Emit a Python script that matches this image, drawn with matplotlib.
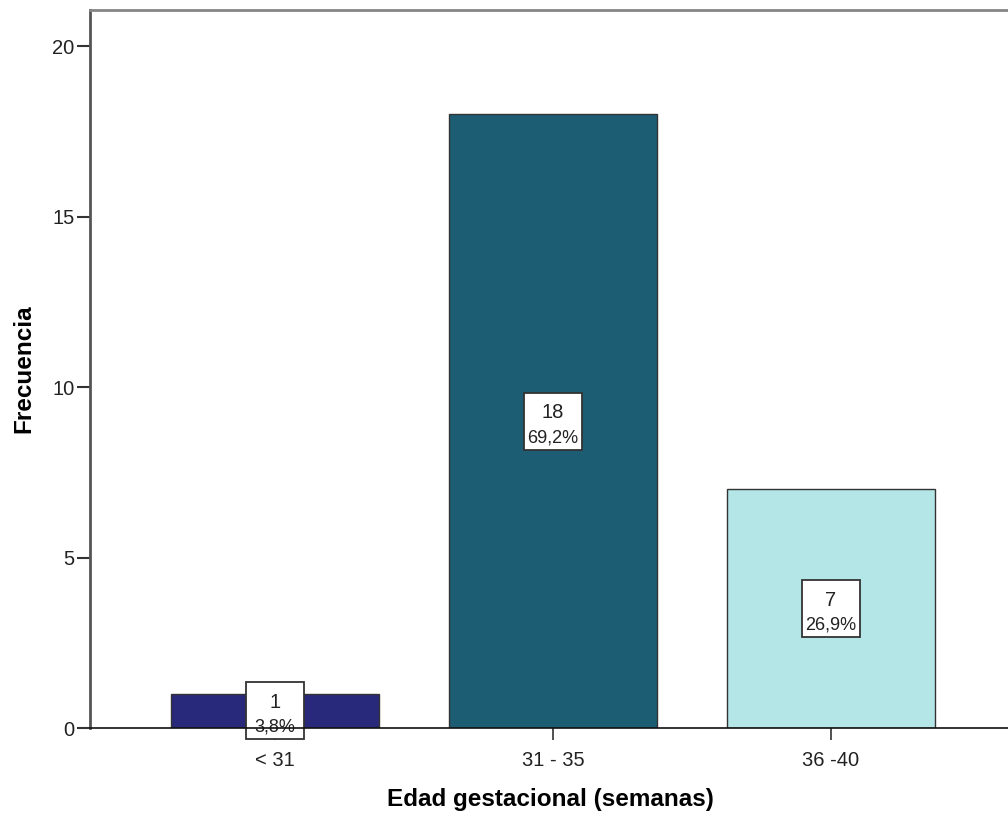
import matplotlib
matplotlib.use("Agg")
import matplotlib.pyplot as plt
import matplotlib.transforms as mtransforms
from matplotlib.patches import Rectangle

# Datos
categorias = ["< 31", "31 - 35", "36 -40"]
frecuencias = [1, 18, 7]
porcentajes = ["3,8%", "69,2%", "26,9%"]
colores = ["#28297a", "#1d5d73", "#b4e5e7"]

plt.rcParams['font.family'] = ['Liberation Sans', 'DejaVu Sans']

fig = plt.figure(figsize=(10.08, 8.17), dpi=100)
ax = fig.add_axes([90 / 1008, 89 / 817, (1010 - 90) / 1008, (728 - 10) / 817])

x = list(range(len(categorias)))
ax.bar(x, frecuencias, width=0.748, color=colores, edgecolor="#333333", linewidth=1.0, zorder=2)

# Cajas de etiquetas (conteo y porcentaje) centradas en cada barra
for i, (v, p) in enumerate(zip(frecuencias, porcentajes)):
    trans = fig.dpi_scale_trans + mtransforms.ScaledTranslation(i, v / 2, ax.transData)
    ax.add_patch(Rectangle((-0.29, -0.285), 0.58, 0.57, transform=trans,
                           facecolor="white", edgecolor="#333333", linewidth=1.3,
                           zorder=4, clip_on=False))
    ax.text(0, 0.085, str(v), transform=trans, ha="center", va="center",
            fontsize=14.5, color="#222222", zorder=5)
    ax.text(0, -0.165, p, transform=trans, ha="center", va="center",
            fontsize=13, color="#222222", zorder=5)

ax.set_xlim(-0.665, 2.644)
ax.set_ylim(0, 21.06)
ax.set_yticks([0, 5, 10, 15, 20])
ax.set_xticks(x)
ax.set_xticklabels(categorias)

ax.spines["right"].set_visible(False)
ax.spines["top"].set_color("#858585")
ax.spines["top"].set_linewidth(2.0)
ax.spines["left"].set_color("#555555")
ax.spines["left"].set_linewidth(2.0)
ax.spines["bottom"].set_color("#111111")
ax.spines["bottom"].set_linewidth(1.2)
# la linea del eje pasa por encima de la caja de la primera barra
ax.spines["bottom"].set_zorder(6)

ax.tick_params(axis="y", length=9.5, width=1.5, color="#333333", pad=1.5,
               labelsize=14.5, labelcolor="#222222")
ax.tick_params(axis="x", length=8.5, width=1.2, color="#333333", pad=8,
               labelsize=14.5, labelcolor="#222222")

ax.set_xlabel("Edad gestacional (semanas)", fontsize=17.5, fontweight="bold", labelpad=13)
ax.set_ylabel("Frecuencia", fontsize=17.5, fontweight="bold", labelpad=12)

fig.savefig("out.png", dpi=100)
